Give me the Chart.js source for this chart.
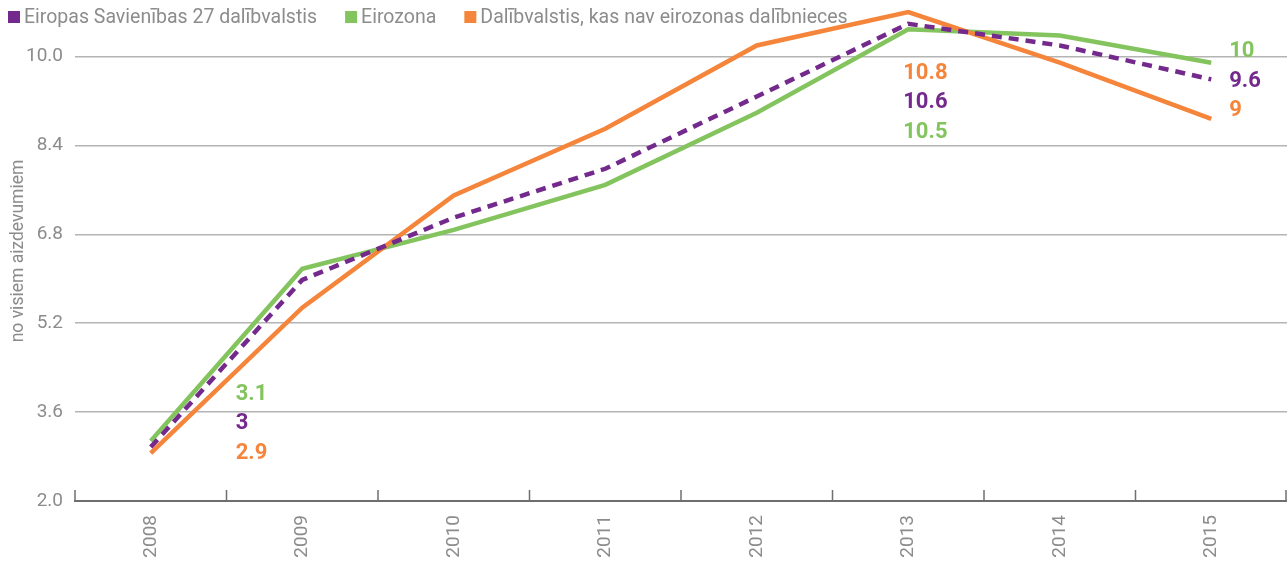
<!DOCTYPE html>
<html>
<head>
<meta charset="utf-8">
<script src="https://cdn.jsdelivr.net/npm/chart.js@4/dist/chart.umd.min.js"></script>
<style>
  html, body { margin: 0; padding: 0; background: #fff; }
  #wrap { width: 1287px; height: 561px; }
</style>
</head>
<body>
<div id="wrap"><canvas id="myChart"></canvas></div>
<script>
const years = ['2008', '2009', '2010', '2011', '2012', '2013', '2014', '2015'];

const eu27 = [2.97, 5.98, 7.1, 7.98, 9.28, 10.59, 10.2, 9.59];
const euroArea = [3.08, 6.18, 6.88, 7.69, 8.99, 10.49, 10.38, 9.89];
const nonEuro = [2.86, 5.48, 7.5, 8.7, 10.2, 10.8, 9.89, 8.88];

const seriesNames = [
    'Eiropas Savienības 27 dalībvalstis',
    'Eirozona',
    'Dalībvalstis, kas nav eirozonas dalībnieces',
];

const yTicks = [2.0, 3.6, 5.2, 6.8, 8.4, 10.0];

// value labels printed next to the lines
const labels2008 = ['3.1', '3', '2.9'];
const labels2013 = ['10.8', '10.6', '10.5'];
const labels2015 = ['10', '9.6', '9'];

const purple = '#74298c';
const green = '#84c45e';
const orange = '#f5853b';
const grey = '#8c8c8c';

const fontFamily = "'Roboto', sans-serif";

const legendPlugin = {
    id: 'topLegend',
    afterDraw(chart) {
        const ctx = chart.ctx;
        const colors = [purple, green, orange];
        ctx.save();
        ctx.font = '19.5px ' + fontFamily;
        ctx.textBaseline = 'middle';
        let x = 8;
        const y = 17;
        seriesNames.forEach((name, i) => {
            ctx.fillStyle = colors[i];
            ctx.fillRect(x, y - 6, 12, 12);
            x += 16;
            ctx.fillStyle = grey;
            ctx.fillText(name, x, y + 1);
            x += ctx.measureText(name).width + 28;
        });
        ctx.restore();
    }
};

const axisTicksPlugin = {
    id: 'axisTicks',
    afterDraw(chart) {
        const xs = chart.scales.x;
        const ctx = chart.ctx;
        const step = xs.width / years.length;
        ctx.save();
        ctx.strokeStyle = '#6e6e6e';
        ctx.lineWidth = 1.5;
        for (let i = 0; i <= years.length; i++) {
            const x = Math.min(xs.left + i * step, xs.right - 1);
            ctx.beginPath();
            ctx.moveTo(x, xs.top);
            ctx.lineTo(x, xs.top - 11);
            ctx.stroke();
        }
        ctx.restore();
    }
};

const valueLabelsPlugin = {
    id: 'valueLabels',
    afterDatasetsDraw(chart) {
        const ctx = chart.ctx;
        const xs = chart.scales.x;
        const ys = chart.scales.y;
        const groups = [
            { index: 0, texts: labels2008, colors: [green, purple, orange], dx: 85, top: ys.getPixelForValue(euroArea[0]) - 47 },
            { index: 5, texts: labels2013, colors: [orange, purple, green], dx: -5, top: ys.getPixelForValue(nonEuro[5]) + 61 },
            { index: 7, texts: labels2015, colors: [green, purple, orange], dx: 18, top: ys.getPixelForValue(euroArea[7]) - 11 },
        ];
        ctx.save();
        ctx.font = 'bold 22px ' + fontFamily;
        ctx.textBaseline = 'middle';
        ctx.textAlign = 'left';
        groups.forEach(g => {
            const x = xs.getPixelForValue(g.index) + g.dx;
            g.texts.forEach((t, j) => {
                ctx.fillStyle = g.colors[j];
                ctx.fillText(t, x, g.top + j * 29.5);
            });
        });
        ctx.restore();
    }
};

const data = {
    labels: years,
    datasets: [{
        label: seriesNames[1],
        data: euroArea,
        borderColor: green,
        backgroundColor: green,
        borderWidth: 4.5,
        pointRadius: 0,
        tension: 0,
        order: 3,
    }, {
        label: seriesNames[2],
        data: nonEuro,
        borderColor: orange,
        backgroundColor: orange,
        borderWidth: 4.5,
        pointRadius: 0,
        tension: 0,
        order: 2,
    }, {
        label: seriesNames[0],
        data: eu27,
        borderColor: purple,
        backgroundColor: purple,
        borderWidth: 4.5,
        borderDash: [10, 7],
        pointRadius: 0,
        tension: 0,
        order: 1,
    }]
};

const config = {
    type: 'line',
    data: data,
    options: {
        responsive: true,
        maintainAspectRatio: false,
        animation: false,
        layout: { padding: { top: 1, right: 0, left: 0, bottom: 0 } },
        plugins: {
            legend: { display: false },
            tooltip: { enabled: false },
        },
        scales: {
            x: {
                offset: true,
                grid: { display: false },
                border: { display: true, color: '#6e6e6e', width: 2 },
                ticks: {
                    color: grey,
                    font: { family: fontFamily, size: 19 },
                    minRotation: 90,
                    maxRotation: 90,
                    padding: 6,
                },
                afterFit(scale) {
                    scale.height = 60;
                    scale.paddingLeft = 0;
                    scale.paddingRight = 0;
                },
            },
            y: {
                min: 2,
                max: 11,
                afterBuildTicks(scale) {
                    scale.ticks = yTicks.map(v => ({ value: v }));
                },
                grid: {
                    color: '#b4b4b4',
                    lineWidth: 1.5,
                    drawTicks: false,
                },
                border: { display: false },
                ticks: {
                    color: grey,
                    font: { family: fontFamily, size: 19 },
                    padding: 12,
                    callback: v => v.toFixed(1),
                },
                title: {
                    display: true,
                    text: 'no visiem aizdevumiem',
                    color: grey,
                    font: { family: fontFamily, size: 17.5 },
                    padding: { top: 8, bottom: 4 },
                },
                afterFit(scale) {
                    scale.width = 75;
                    scale.paddingTop = 0;
                    scale.paddingBottom = 0;
                },
            }
        }
    },
    plugins: [legendPlugin, axisTicksPlugin, valueLabelsPlugin]
};

const myChart = new Chart(
    document.getElementById('myChart'),
    config
);
</script>
</body>
</html>
